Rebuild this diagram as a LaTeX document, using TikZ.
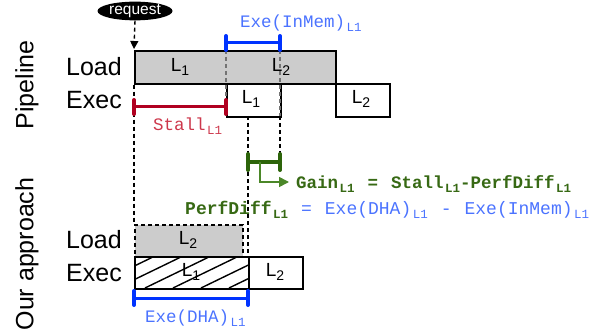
\documentclass[tikz,border=0pt]{standalone}
\usepackage{fontspec}
\setmainfont{Liberation Sans}
\setmonofont{Liberation Mono}
\usetikzlibrary{arrows.meta,shapes.geometric}

\definecolor{barblue}{RGB}{0,51,255}
\definecolor{txtblue}{RGB}{75,115,255}
\definecolor{barred}{RGB}{176,0,32}
\definecolor{txtred}{RGB}{205,55,75}
\definecolor{bargreen}{RGB}{45,100,10}
\definecolor{arrgreen}{RGB}{75,135,40}
\definecolor{txtgreen}{RGB}{55,105,20}
\definecolor{loadgray}{RGB}{204,204,204}

% small lowered index used in the mono labels and in the box names
\newcommand\monosub[1]{\hspace{1.5pt}\raisebox{-0.45ex}{\fontsize{12.5}{13}\selectfont #1}}
\newcommand\boxname[2]{#1\raisebox{-0.4ex}{\fontsize{14}{14}\selectfont #2}}
% spaced operator inside the formulas
\newcommand\opsp[1]{\hspace{13pt}#1\hspace{13pt}}

\begin{document}
\begin{tikzpicture}[x=1pt,y=-1pt,
  rowlbl/.style={font=\fontsize{25}{30}\selectfont, inner sep=0pt, anchor=east},
  sidelbl/.style={font=\fontsize{25}{30}\selectfont, inner sep=0pt, rotate=90},
  boxtxt/.style={font=\fontsize{19}{22}\selectfont, inner sep=0pt},
  slot/.style={draw=black, line width=1.6pt, inner sep=0pt, anchor=north west},
  mono/.style={font=\fontsize{17.5}{20}\selectfont\ttfamily, inner sep=0pt},
  formula/.style={font=\fontsize{18}{20}\selectfont\ttfamily, inner sep=0pt, anchor=west},
  guide/.style={dashed, dash pattern=on 4pt off 3pt, line width=1.4pt},
  grayguide/.style={guide, draw=black!55},
  bluebar/.style={draw=barblue, line width=3pt},
  redbar/.style={draw=barred, line width=3pt},
  greenbar/.style={draw=bargreen, line width=3pt},
  tick/.style={line width=4pt, line cap=round},
]
\useasboundingbox (0,0) rectangle (605,334);

% side labels
\node[sidelbl] (pipe) at (27,85) {Pipeline};
\node[sidelbl] (ours) at (27,254) {Our approach};

% request marker
\node[fill=black, ellipse, text=white, inner sep=0pt, minimum width=75pt,
      minimum height=17pt, font=\fontsize{15.5}{16}\selectfont] (req) at (135,11) {request};

% ---- pipeline rows ----
\node[rowlbl] (loadA) at (122,67) {Load};
\node[rowlbl] (execA) at (122,100) {Exec};

\node[slot, fill=loadgray, minimum width=201pt, minimum height=33pt] (ldA) at (134,50) {};
\node[boxtxt] (ldA1) at (180,67) {\boxname{L}{1}};
\node[boxtxt] (ldA2) at (281,67) {\boxname{L}{2}};
\node[slot, fill=white, minimum width=54pt, minimum height=33pt] (exA1) at (226,83) {};
\node[boxtxt] (exA1t) at (251,99) {\boxname{L}{1}};
\node[slot, fill=white, minimum width=54pt, minimum height=33pt] (exA2) at (335,83) {};
\node[boxtxt] (exA2t) at (361,99) {\boxname{L}{2}};

% ---- our approach rows ----
\node[rowlbl] (loadB) at (122,240) {Load};
\node[rowlbl] (execB) at (122,273) {Exec};

\node[slot, fill=loadgray, dashed, dash pattern=on 4pt off 3pt, minimum width=108pt, minimum height=32pt] (ldB) at (134,224) {};
\node[boxtxt] (ldB2) at (188,240) {\boxname{L}{2}};
\node[slot, fill=white, minimum width=114pt, minimum height=32pt] (exB1) at (134,256) {};
\begin{scope}
  \clip (exB1.north west) rectangle (exB1.south east);
  \foreach \k in {-3,...,4}
    \draw[line width=1.4pt] ({145+28*\k},288) -- ({211+28*\k},256);
\end{scope}
\node[slot, minimum width=114pt, minimum height=32pt] (exB1f) at (134,256) {};
\node[boxtxt] (exB1t) at (191,272) {\boxname{L}{1}};
\node[slot, fill=white, minimum width=54pt, minimum height=32pt] (exB2) at (248,256) {};
\node[boxtxt] (exB2t) at (275,272) {\boxname{L}{2}};

% ---- guide lines ----
\coordinate (reqFoot) at (134,49);
\draw[guide, -{Triangle[length=8pt,width=8pt]}] (req.south) -- (reqFoot);
\draw[guide] (ldA.south west) -- (ldB.north west);
\coordinate (imL) at (226,43);
\coordinate (imR) at (280,43);
\coordinate (imLlow) at (226,100);
\coordinate (imRlow) at (280,116);
\draw[grayguide] (imL) -- (imLlow);
\draw[grayguide] (imR) -- (imRlow);
\coordinate (dA) at (248,116);
\coordinate (dAlow) at (248,256);
\draw[guide] (dA) -- (dAlow);
\coordinate (gR) at (280,162);
\draw[guide] (imRlow) -- (gR);

% ---- Exe(InMem) span ----
\draw[bluebar] (imL) -- (imR);
\draw[barblue, tick] ([yshift=7pt]imL) -- ([yshift=-7pt]imL);
\draw[barblue, tick] ([yshift=7pt]imR) -- ([yshift=-7pt]imR);
\node[mono, text=txtblue, anchor=west] (imLbl) at (240,23) {Exe(InMem)\monosub{L1}};

% ---- Stall span ----
\coordinate (stL) at (134,107);
\coordinate (stR) at (226,107);
\draw[redbar] (stL) -- (stR);
\draw[barred, tick] ([yshift=7pt]stL) -- ([yshift=-7pt]stL);
\draw[barred, tick] ([yshift=7pt]stR) -- ([yshift=-7pt]stR);
\node[mono, text=txtred, anchor=west] (stLbl) at (153,126) {Stall\monosub{L1}};

% ---- PerfDiff span ----
\coordinate (gL) at (248,162);
\draw[greenbar] (gL) -- (gR);
\draw[bargreen, tick] ([yshift=8pt]gL) -- ([yshift=-8pt]gL);
\draw[bargreen, tick] ([yshift=8pt]gR) -- ([yshift=-8pt]gR);
\coordinate (gStem) at (260,162);
\coordinate (gTip) at (289,182);
\draw[arrgreen, line width=1.6pt, -{Triangle[length=10pt,width=10pt]}] (gStem) |- (gTip);

\node[formula, text=txtgreen, font=\fontsize{17.5}{20}\selectfont\ttfamily\bfseries] (gain) at (296,184)
  {Gain\monosub{L1}\opsp{=}Stall\monosub{L1}-PerfDiff\monosub{L1}};
\node[formula] (perf) at (185,210)
  {\textcolor{txtgreen}{\bfseries PerfDiff\monosub{L1}}\textcolor{txtblue}{\opsp{=}Exe(DHA)\monosub{L1}\opsp{-}Exe(InMem)\monosub{L1}}};

% ---- Exe(DHA) span ----
\coordinate (dhL) at (134,298);
\coordinate (dhR) at (248,298);
\draw[bluebar] (dhL) -- (dhR);
\draw[barblue, tick] ([yshift=7pt]dhL) -- ([yshift=-7pt]dhL);
\draw[barblue, tick] ([yshift=7pt]dhR) -- ([yshift=-7pt]dhR);
\node[mono, text=txtblue, anchor=west] (dhLbl) at (145,318) {Exe(DHA)\monosub{L1}};
\end{tikzpicture}
\end{document}
